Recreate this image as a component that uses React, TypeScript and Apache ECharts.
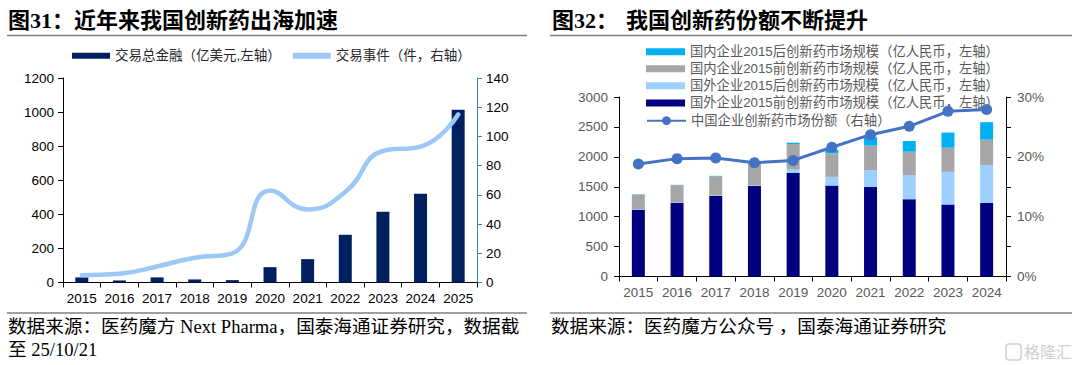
import React, { useEffect, useRef } from 'react';
import * as echarts from 'echarts';

// ---- Chart 31 data ----
const years31 = ['2015', '2016', '2017', '2018', '2019', '2020', '2021', '2022', '2023', '2024', '2025'];
const dealAmount = [30, 12, 30, 18, 14, 90, 137, 280, 415, 521, 1013];
const dealCount = [5, 6, 11, 17, 20, 63, 50, 62, 90, 93, 115];
const leftTicks31 = { min: 0, max: 1200, interval: 200 };
const rightTicks31 = { min: 0, max: 140, interval: 20 };

// ---- Chart 32 data ----
const years32 = ['2015', '2016', '2017', '2018', '2019', '2020', '2021', '2022', '2023', '2024'];
const foreignPre = [1115, 1228, 1345, 1512, 1735, 1520, 1495, 1292, 1203, 1230];
const foreignPost = [8, 6, 6, 8, 62, 145, 282, 401, 546, 632];
const domesticPre = [245, 292, 325, 360, 417, 393, 410, 393, 404, 426];
const domesticPost = [6, 5, 6, 5, 22, 56, 140, 179, 252, 291];
const chinaShare = [18.8, 19.7, 19.8, 19.0, 19.4, 21.6, 23.7, 25.1, 27.6, 27.9];
const leftTicks32 = { min: 0, max: 3000, interval: 500 };
const rightTicks32 = { min: 0, max: 30, interval: 5 };

const N31 = { amount: '交易总金融（亿美元,左轴）', count: '交易事件（件，右轴）' };
const N32 = {
  dPost: '国内企业2015后创新药市场规模（亿人民币，左轴）',
  dPre: '国内企业2015前创新药市场规模（亿人民币，左轴）',
  fPost: '国外企业2015后创新药市场规模（亿人民币，左轴）',
  fPre: '国外企业2015前创新药市场规模（亿人民币，左轴）',
  share: '中国企业创新药市场份额（右轴）',
};

const SANS = '"Liberation Sans", Arial, "Noto Sans CJK SC", sans-serif';
const SERIF = '"Liberation Serif", "Noto Sans CJK SC", serif';

export default function App() {
  const ref = useRef<HTMLDivElement>(null);
  useEffect(() => {
    if (!ref.current) return;
    const chart = echarts.init(ref.current, null, { renderer: 'svg' });
    const plain = (v: number) => String(v);
    const axisLabel31 = { color: '#000', fontSize: 13.5, fontFamily: SANS };
    const axisLabel32 = { color: '#595959', fontSize: 13.5, fontFamily: SANS };
    const option: any = {
      animation: false,
      backgroundColor: '#fff',
      grid: [
        { left: 63, right: 1080 - 477, top: 78, bottom: 365 - 282.5, containLabel: false },
        { left: 619, right: 1080 - 1006, top: 97, bottom: 365 - 276.5, containLabel: false },
      ],
      legend: [
        {
          left: 67,
          top: 44,
          orient: 'horizontal',
          itemWidth: 38,
          itemHeight: 6,
          itemGap: 12,
          textStyle: { color: '#262626', fontSize: 13.5, fontFamily: SANS },
          data: [
            { name: N31.amount, icon: 'rect' },
            { name: N31.count, icon: 'roundRect' },
          ],
        },
        {
          left: 641,
          top: 40,
          orient: 'vertical',
          itemWidth: 39,
          itemHeight: 7,
          itemGap: 3.8,
          textStyle: { color: '#595959', fontSize: 13.3, fontFamily: SANS },
          data: [
            { name: N32.dPost, icon: 'rect' },
            { name: N32.dPre, icon: 'rect' },
            { name: N32.fPost, icon: 'rect' },
            { name: N32.fPre, icon: 'rect' },
          ],
        },
        {
          left: 641,
          top: 109,
          orient: 'vertical',
          itemWidth: 39,
          itemHeight: 11,
          textStyle: { color: '#595959', fontSize: 13.3, fontFamily: SANS },
          data: [{ name: N32.share }],
        },
      ],
      xAxis: [
        {
          type: 'category',
          gridIndex: 0,
          data: years31,
          boundaryGap: true,
          axisLine: { lineStyle: { color: '#000', width: 1 } },
          axisTick: { show: true, alignWithLabel: false, length: 5, lineStyle: { color: '#000' } },
          axisLabel: { ...axisLabel31, margin: 9, interval: 0 },
        },
        {
          type: 'category',
          gridIndex: 1,
          data: years32,
          boundaryGap: true,
          axisLine: { lineStyle: { color: '#000', width: 1 } },
          axisTick: { show: true, alignWithLabel: false, length: 5, lineStyle: { color: '#000' } },
          axisLabel: { ...axisLabel32, margin: 9, interval: 0 },
        },
      ],
      yAxis: [
        {
          type: 'value',
          gridIndex: 0,
          position: 'left',
          ...leftTicks31,
          axisLine: { show: true, lineStyle: { color: '#000' } },
          axisTick: { show: true, length: 5, lineStyle: { color: '#000' } },
          splitLine: { show: false },
          axisLabel: { ...axisLabel31, margin: 9, formatter: plain },
        },
        {
          type: 'value',
          gridIndex: 0,
          position: 'right',
          ...rightTicks31,
          axisLine: { show: true, lineStyle: { color: '#3F88B5' } },
          axisTick: { show: true, length: 5, lineStyle: { color: '#3F88B5' } },
          splitLine: { show: false },
          axisLabel: { ...axisLabel31, margin: 9, formatter: plain },
        },
        {
          type: 'value',
          gridIndex: 1,
          position: 'left',
          ...leftTicks32,
          axisLine: { show: true, lineStyle: { color: '#000' } },
          axisTick: { show: true, length: 5, lineStyle: { color: '#000' } },
          splitLine: { show: false },
          axisLabel: { ...axisLabel32, margin: 11, formatter: plain },
        },
        {
          type: 'value',
          gridIndex: 1,
          position: 'right',
          ...rightTicks32,
          axisLine: { show: true, lineStyle: { color: '#000' } },
          axisTick: { show: true, length: 5, lineStyle: { color: '#000' } },
          splitLine: { show: false },
          axisLabel: {
            ...axisLabel32,
            margin: 11,
            formatter: (v: number) => (v % 10 === 0 ? v + '%' : ''),
          },
        },
      ],
      series: [
        {
          name: N31.amount,
          type: 'bar',
          xAxisIndex: 0,
          yAxisIndex: 0,
          data: dealAmount,
          barWidth: 13,
          itemStyle: { color: '#002060' },
        },
        {
          name: N31.count,
          type: 'line',
          xAxisIndex: 0,
          yAxisIndex: 1,
          data: dealCount,
          smooth: 0.5,
          showSymbol: false,
          symbol: 'none',
          lineStyle: { color: '#9DC8F5', width: 4.5, cap: 'round' },
          itemStyle: { color: '#9DC8F5' },
        },
        {
          name: N32.fPre,
          type: 'bar',
          stack: 's32',
          xAxisIndex: 1,
          yAxisIndex: 2,
          data: foreignPre,
          barWidth: 13,
          itemStyle: { color: '#000080' },
        },
        {
          name: N32.fPost,
          type: 'bar',
          stack: 's32',
          xAxisIndex: 1,
          yAxisIndex: 2,
          data: foreignPost,
          barWidth: 13,
          itemStyle: { color: '#9DCFFF' },
        },
        {
          name: N32.dPre,
          type: 'bar',
          stack: 's32',
          xAxisIndex: 1,
          yAxisIndex: 2,
          data: domesticPre,
          barWidth: 13,
          itemStyle: { color: '#A6A6A6' },
        },
        {
          name: N32.dPost,
          type: 'bar',
          stack: 's32',
          xAxisIndex: 1,
          yAxisIndex: 2,
          data: domesticPost,
          barWidth: 13,
          itemStyle: { color: '#00B0F0' },
        },
        {
          name: N32.share,
          type: 'line',
          xAxisIndex: 1,
          yAxisIndex: 3,
          data: chinaShare,
          symbol: 'circle',
          symbolSize: 11,
          lineStyle: { color: '#4472C4', width: 3 },
          itemStyle: { color: '#4472C4' },
          z: 5,
        },
      ],
      graphic: [
        {
          type: 'text',
          x: 8,
          y: 20,
          style: { text: '图31：近年来我国创新药出海加速', fontSize: 22, fontWeight: 'bold', fontFamily: SERIF, fill: '#000', verticalAlign: 'middle' },
        },
        {
          type: 'text',
          x: 552,
          y: 20,
          style: { text: '图32：', fontSize: 22, fontWeight: 'bold', fontFamily: SERIF, fill: '#000', verticalAlign: 'middle' },
        },
        {
          type: 'text',
          x: 626,
          y: 20,
          style: { text: '我国创新药份额不断提升', fontSize: 22, fontWeight: 'bold', fontFamily: SERIF, fill: '#000', verticalAlign: 'middle' },
        },
        { type: 'line', shape: { x1: 7, y1: 35.5, x2: 527, y2: 35.5 }, style: { stroke: '#7F7F7F', lineWidth: 1.5 } },
        { type: 'line', shape: { x1: 550, y1: 35.5, x2: 1072, y2: 35.5 }, style: { stroke: '#7F7F7F', lineWidth: 1.5 } },
        { type: 'line', shape: { x1: 7, y1: 313, x2: 527, y2: 313 }, style: { stroke: '#7F7F7F', lineWidth: 1.5 } },
        { type: 'line', shape: { x1: 550, y1: 313, x2: 1072, y2: 313 }, style: { stroke: '#7F7F7F', lineWidth: 1.5 } },
        {
          type: 'text',
          x: 8,
          y: 326,
          style: { text: '数据来源：医药魔方 Next Pharma，国泰海通证券研究，数据截', fontSize: 18.6, fontFamily: SERIF, fill: '#000', verticalAlign: 'middle' },
        },
        {
          type: 'text',
          x: 8,
          y: 349,
          style: { text: '至 25/10/21', fontSize: 18.6, fontFamily: SERIF, fill: '#000', verticalAlign: 'middle' },
        },
        {
          type: 'text',
          x: 551,
          y: 326,
          style: { text: '数据来源：医药魔方公众号 ，国泰海通证券研究', fontSize: 18.6, fontFamily: SERIF, fill: '#000', verticalAlign: 'middle' },
        },
        {
          type: 'rect',
          shape: { x: 1006, y: 344, width: 15, height: 16, r: 3 },
          style: { fill: 'none', stroke: '#CFCFCF', lineWidth: 1.5 },
        },
        {
          type: 'text',
          x: 1024,
          y: 352,
          style: { text: '格隆汇', fontSize: 16, fontFamily: SANS, fill: '#CFCFCF', verticalAlign: 'middle' },
        },
      ],
    };
    chart.setOption(option);
    return () => chart.dispose();
  }, []);
  return (
    <div
      ref={ref}
      style={{ position: 'absolute', left: 0, top: 0, width: 1080, height: 365, background: '#fff' }}
    />
  );
}
